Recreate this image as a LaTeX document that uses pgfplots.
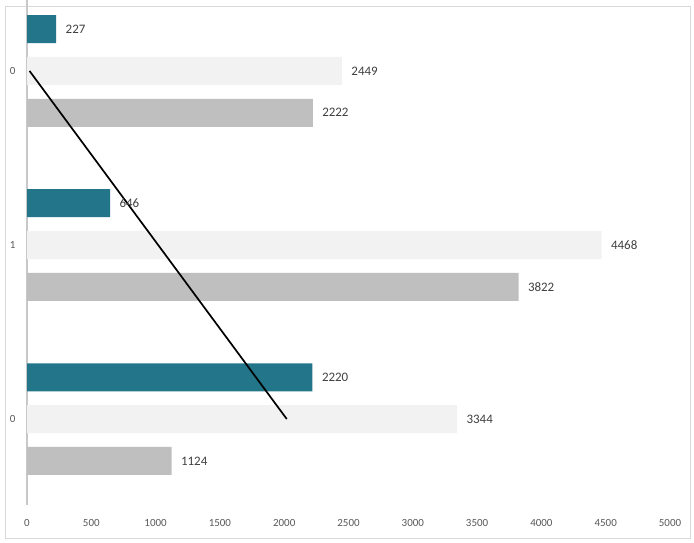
\documentclass[border=0pt]{standalone}
\usepackage{pgfplots}
\pgfplotsset{compat=1.18}
\usepackage{fontspec}
\setmainfont{Carlito}
\definecolor{teal1}{RGB}{35,117,137}
\definecolor{lightbar}{RGB}{242,242,242}
\definecolor{graybar}{RGB}{191,191,191}
\definecolor{txt}{RGB}{64,64,64}
\definecolor{ticktxt}{RGB}{89,89,89}
\definecolor{framec}{RGB}{217,217,217}
\definecolor{axisc}{RGB}{200,200,200}
\begin{document}
\begin{tikzpicture}
\useasboundingbox (-27bp,-38bp) rectangle (667bp,505bp);
\fill[white] (-27bp,-38bp) rectangle (667bp,505bp);
\draw[framec, line width=0.8bp] (-22bp,-33bp) rectangle (663bp,499bp);
\begin{axis}[
  at={(0,0)}, anchor=south west,
  scale only axis, width=643bp, height=505bp,
  xmin=0, xmax=5000, ymin=-0.494, ymax=2.408,
  xtick={0,500,...,5000},
  ytick={0,1,2}, yticklabels={0,1,0},
  axis lines*=left,
  x axis line style={draw=none},
  y axis line style={draw=axisc, line width=1.2bp},
  major tick length=0pt,
  tick label style={font=\fontsize{11}{13}\selectfont, color=ticktxt},
  xticklabel style={yshift=-11bp},
  yticklabel style={xshift=-8bp},
  /pgf/number format/1000 sep={},
  /pgf/number format/assume math mode=true,
  clip=false,
  mybar/.style={xbar, bar width=28bp, bar shift=0pt, draw=none,
    nodes near coords, nodes near coords align={horizontal},
    every node near coord/.append style={font=\fontsize{13}{15}\selectfont, color=txt, anchor=west, xshift=6bp}},
]
\addplot[mybar, fill=teal1] coordinates {(227,2.24) (646,1.24) (2220,0.24)};
\addplot[mybar, fill=lightbar] coordinates {(2449,2) (4468,1) (3344,0)};
\addplot[mybar, fill=graybar] coordinates {(2222,1.76) (3822,0.76) (1124,-0.24)};
\addplot[black, line width=1.7bp, sharp plot, mark=none] coordinates {(20,2) (1020,1) (2020,0)};
\end{axis}
\end{tikzpicture}
\end{document}
